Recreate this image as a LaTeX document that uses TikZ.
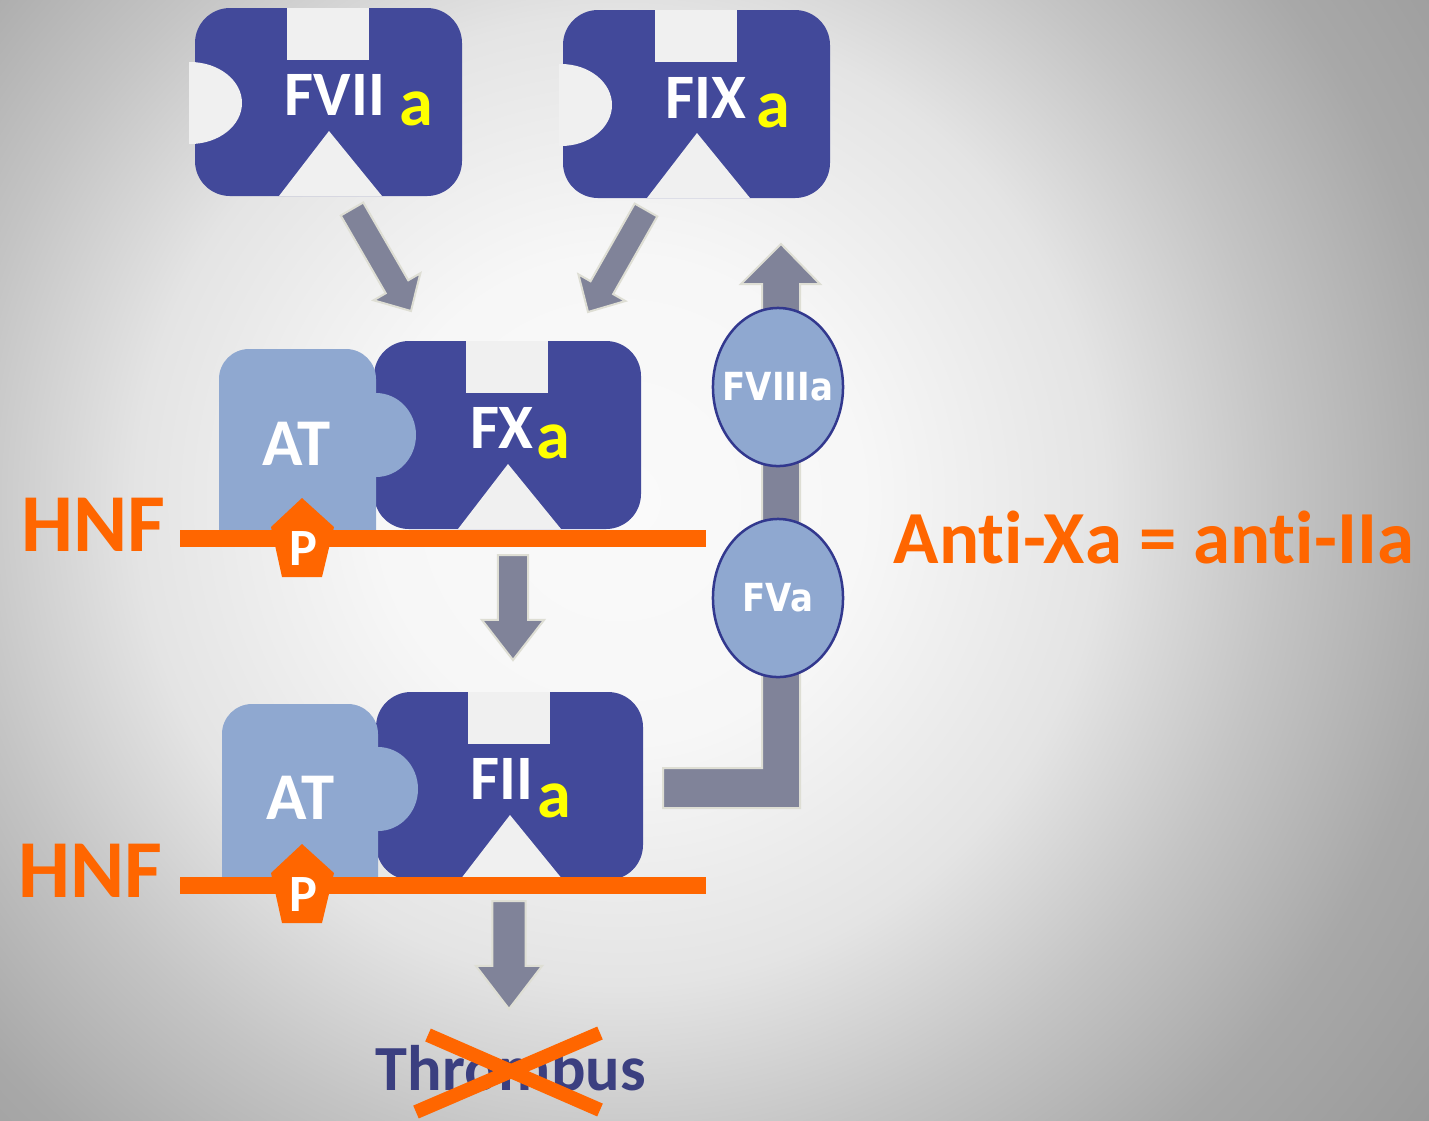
\documentclass[tikz,border=0pt]{standalone}
\usepackage{fontspec}
\setmainfont{Carlito}[Ligatures=NoCommon]
\newfontfamily\verdana[FakeStretch=0.88]{DejaVu Sans}
\usepackage{xcolor}
\definecolor{azulEnzima}{RGB}{66,73,154}
\definecolor{azulAT}{RGB}{143,168,208}
\definecolor{azulBorda}{RGB}{50,56,142}
\definecolor{azulTrombo}{RGB}{59,63,128}
\definecolor{laranjaHNF}{RGB}{255,102,0}
\definecolor{amareloA}{RGB}{255,255,0}
\definecolor{cinzaSeta}{RGB}{128,131,153}
\definecolor{bordaSeta}{RGB}{222,222,212}
\definecolor{furo}{RGB}{240,240,240}
\definecolor{fundoA}{RGB}{250,250,250}
\definecolor{fundoB}{RGB}{247,247,247}
\definecolor{fundoC}{RGB}{228,228,228}
\definecolor{fundoD}{RGB}{196,196,196}
\definecolor{fundoE}{RGB}{168,168,168}
\definecolor{fundoF}{RGB}{148,148,148}
\usepackage{tikz}
\usetikzlibrary{shapes.geometric,arrows.meta,positioning,calc}
\pgfdeclareradialshading{fundo}{\pgfpoint{0bp}{0bp}}{color(0bp)=(fundoA); color(5.5bp)=(fundoB); color(11bp)=(fundoC); color(15bp)=(fundoD); color(19bp)=(fundoE); color(25bp)=(fundoF); color(50bp)=(fundoF)}
\tikzset{
  enzima/.pic={
    \fill[azulEnzima, rounded corners=0.35cm] (0,0) rectangle (267,188);
    \fill[furo] (92,0) rectangle (174,52);
    \fill[furo] (84,188) -- (134,123) -- (187,188) -- cycle;
  },
  rotulo/.style={anchor=base west, inner sep=0pt, text=white,
                 font=\fontsize{18}{18}\selectfont\bfseries},
  sufixo/.style={anchor=base west, inner sep=0pt, text=amareloA,
                 font=\fontsize{19.4}{19.4}\selectfont\bfseries},
  antitrombina/.style={anchor=base west, inner sep=0pt, text=white,
                 font=\fontsize{19}{19}\selectfont\bfseries},
  heparina/.style={anchor=base west, inner sep=0pt, text=laranjaHNF,
                 font=\fontsize{23.4}{23.4}\selectfont\bfseries},
  letraP/.style={anchor=base, inner sep=0pt, text=white,
                 font=\fontsize{14.9}{14.9}\selectfont\bfseries},
  fator/.style={ellipse, draw=azulBorda, line width=0.025cm, fill=azulAT,
                minimum width=1.3cm, minimum height=1.58cm, inner sep=0pt},
  textoFator/.style={text=white, inner sep=0pt,
                font=\verdana\bfseries\fontsize{11}{11}\selectfont},
  seta/.style={fill=cinzaSeta, draw=bordaSeta, line width=0.02cm},
  membrana/.style={draw=laranjaHNF, line width=0.17cm},
  cruz/.style={draw=laranjaHNF, line width=0.14cm},
}
\newcommand{\setabloco}[5]{%
  \coordinate (cabeca) at ($(#2)!#5!(#1)$);
  \filldraw[seta] ($(#1)!#3!90:(#2)$) -- ($(cabeca)!#3!-90:(#1)$)
    -- ($(cabeca)!#4!-90:(#1)$) -- (#2) -- ($(cabeca)!#4!90:(#1)$)
    -- ($(cabeca)!#3!90:(#1)$) -- ($(#1)!#3!-90:(#2)$) -- cycle;
}

\begin{document}
\begin{tikzpicture}[x=0.01cm, y=-0.01cm]
  \useasboundingbox (0,0) rectangle (1429,1120);
  \begin{scope}
    \clip (0,0) rectangle (1429,1120);
    \shade[shading=fundo] (620,500) circle (1100);
  \end{scope}

  % enzimas de cima
  \pic at (195,8) {enzima};
  \pic at (563,10) {enzima};
  \begin{scope}
    \clip (189,0) rectangle (470,200) (559,0) rectangle (840,200);
    \fill[furo] (190,103) ellipse [x radius=52, y radius=41];
    \fill[furo] (561,105) ellipse [x radius=51, y radius=41];
  \end{scope}
  \node[rotulo] (fvii) at (284,115) {FVII};
  \node[sufixo] (fviia) at (399,125) {a};
  \node[rotulo] (fix) at (665,118) {FIX};
  \node[sufixo] (fixa) at (756,127) {a};

  % complexos com AT
  \pic at (374,341) {enzima};
  \fill[azulAT] (219,540) [rounded corners=0.3cm] -- (219,349) -- (376,349) [sharp corners] -- (376,540) -- cycle;
  \fill[azulAT] (376,435) ellipse [x radius=40, y radius=42];
  \pic at (376,692) {enzima};
  \fill[azulAT] (222,887) [rounded corners=0.3cm] -- (222,704) -- (378,704) [sharp corners] -- (378,887) -- cycle;
  \fill[azulAT] (378,789) ellipse [x radius=40, y radius=42];
  \node[rotulo] (fx) at (470,448) {FX};
  \node[sufixo] (fxa) at (536,458) {a};
  \node[rotulo] (fii) at (470,799) {FII};
  \node[sufixo] (fiia) at (537,817) {a};
  \node[antitrombina] (at1) at (262,465) {AT};
  \node[antitrombina] (at2) at (266,819) {AT};

  % heparina
  \draw[membrana] (180,538) -- (706,538);
  \draw[membrana] (180,885) -- (706,885);
  \fill[laranjaHNF] (302,498) -- (334,527) -- (322,577) -- (282,577) -- (271,527) -- cycle;
  \fill[laranjaHNF] (302,844) -- (334,873) -- (322,923) -- (282,923) -- (271,873) -- cycle;
  \node[letraP] (p1) at (303,565) {P};
  \node[letraP] (p2) at (303,911) {P};
  \node[heparina] (hnf1) at (21,551) {HNF};
  \node[heparina] (hnf2) at (18,897) {HNF};

  % setas
  \coordinate (inicioVII) at (352,209);
  \coordinate (pontaVII) at (411,311);
  \coordinate (inicioIX) at (646,210);
  \coordinate (pontaIX) at (588,312);
  \coordinate (inicioX) at (513,555);
  \coordinate (pontaX) at (513,660);
  \coordinate (inicioII) at (509,901);
  \coordinate (pontaII) at (509,1009);
  \setabloco{inicioVII}{pontaVII}{0.13cm}{0.27cm}{0.28cm}
  \setabloco{inicioIX}{pontaIX}{0.13cm}{0.27cm}{0.28cm}
  \setabloco{inicioX}{pontaX}{0.15cm}{0.31cm}{0.4cm}
  \setabloco{inicioII}{pontaII}{0.165cm}{0.33cm}{0.43cm}

  \coordinate (saidaFII) at (663,788);
  \coordinate (pontaFIX) at (781,244);
  \filldraw[seta] ($(saidaFII)+(0,-20)$) -| ($(pontaFIX)+(-19,40)$) -- ++(-21,0) -- (pontaFIX)
    -- ++(39,40) -- ++(-20,0) |- ($(saidaFII)+(0,20)$) -- cycle;
  \node[fator, label={[textoFator]center:FVIIIa}] (fviiia) at (778,387) {};
  \node[fator, label={[textoFator]center:FVa}] (fva) at (778,598) {};

  \node[anchor=base west, inner sep=0pt, text=laranjaHNF,
        font=\fontsize{21.3}{21.3}\selectfont\bfseries] (anti) at (893,563) {Anti-Xa = anti-IIa};

  \node[anchor=base west, inner sep=0pt, text=azulTrombo,
        font=\fontsize{18.3}{18.3}\selectfont\bfseries] (trombo) at (375,1090) {Thrombus};
  \draw[cruz] (428,1035) -- (600,1110);
  \draw[cruz] (600,1033) -- (416,1112);
\end{tikzpicture}
\end{document}
